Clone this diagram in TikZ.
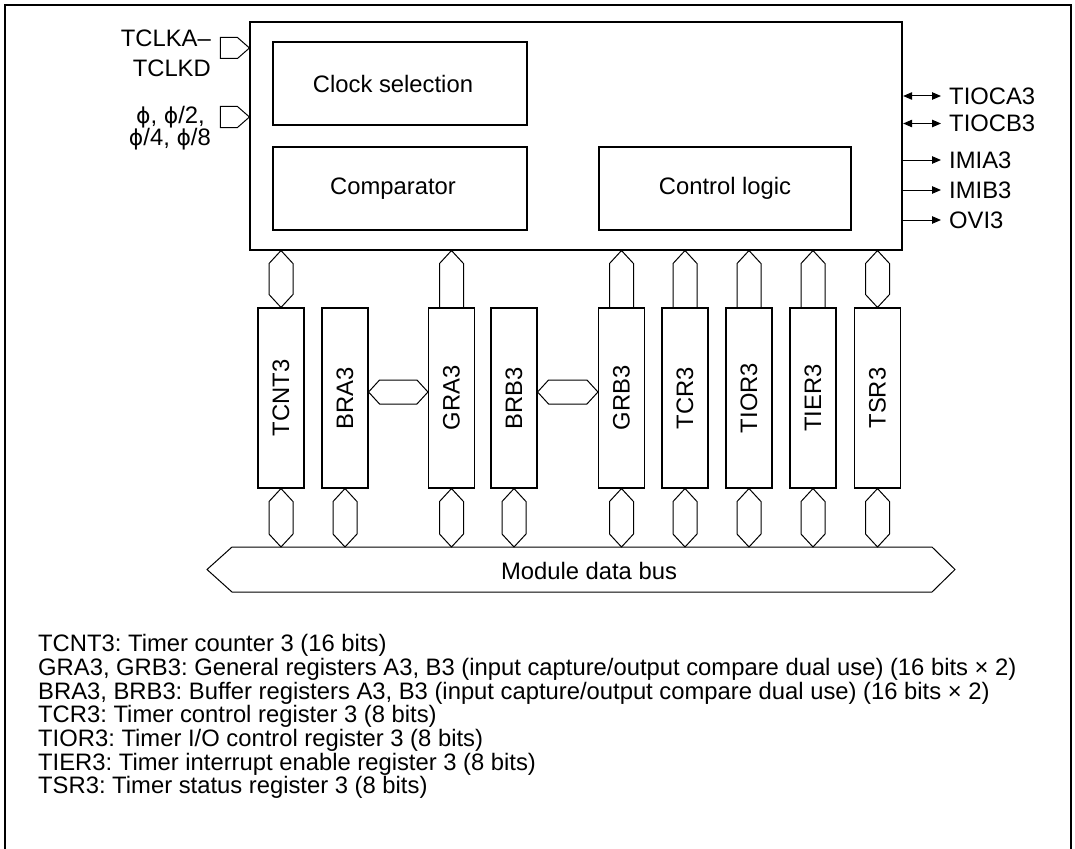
\documentclass[tikz,border=0pt]{standalone}
\usepackage{fontspec}
\setmainfont{Liberation Sans}
\newfontfamily\phifont[Scale=0.92]{DejaVu Sans}
\newcommand{\ph}{{\phifont ϕ}}
\usetikzlibrary{calc,arrows.meta}
\newcommand{\topdbl}[1]{%
  \coordinate (#1-a) at (#1.north |- main.south);
  \draw[conn] (#1-a) -- ++(12,13) -- ($(#1.north)+(12,-13)$) -- (#1.north) -- ++(-12,-13) -- ($(#1-a)+(-12,13)$) -- cycle;}
\newcommand{\topup}[1]{%
  \coordinate (#1-a) at (#1.north |- main.south);
  \draw[conn] ($(#1.north)+(-12,0)$) -- ($(#1-a)+(-12,13)$) -- (#1-a) -- ++(12,13) -- ($(#1.north)+(12,0)$);}
\newcommand{\botdbl}[1]{%
  \coordinate (#1-b) at (#1.south |- bustop);
  \draw[conn] (#1.south) -- ++(12,13) -- ($(#1-b)+(12,-13)$) -- (#1-b) -- ++(-12,-13) -- ($(#1.south)+(-12,13)$) -- cycle;}
\newcommand{\hdbl}[2]{%
  \coordinate (#1-h) at ($(#1.east)+(0,-6)$);
  \coordinate (#2-h) at ($(#2.west)+(0,-6)$);
  \draw[conn] (#1-h) -- ++(11,-12) -- ($(#2-h)+(-11,-12)$) -- (#2-h) -- ++(-11,12) -- ($(#1-h)+(11,12)$) -- cycle;}
\newcommand{\inpent}[1]{%
  \draw[conn] (#1) -- ++(-12,-10.5) -- ++(-17,0) -- ++(0,21) -- ++(17,0) -- cycle;}
\begin{document}
\frenchspacing
\begin{tikzpicture}[x=1pt,y=-1pt, line join=miter,
  font=\fontsize{23.8}{28}\selectfont,
  conn/.style={line width=1pt},
  blk/.style={draw, line width=1.1pt, inner sep=0pt},
  reg/.style={draw, line width=1.1pt, inner sep=0pt, minimum width=46pt, minimum height=180pt},
  txt/.style={inner sep=0pt},
  sig/.style={-{Triangle[length=9pt,width=7.5pt]}, line width=1pt},
  bisig/.style={{Triangle[length=9pt,width=7.5pt]}-{Triangle[length=9pt,width=7.5pt]}, line width=1pt}]
\useasboundingbox (0,0) rectangle (1075,848);
\clip (0,0) rectangle (1075,848);
% outer frame
\draw[line width=2.5pt] (5,870) -- (5,5) -- (1071,5) -- (1071,870);
% main block
\node[blk, minimum width=652pt, minimum height=228pt] (main) at (576,136) {};
\node[blk, minimum width=254pt, minimum height=83pt] (clk) at (400,83.5) {Clock selection\hspace*{14pt}};
\node[blk, minimum width=254pt, minimum height=83pt] (cmp) at (400,188.5) {Comparator\hspace*{14pt}};
\node[blk, minimum width=252pt, minimum height=83pt] (ctl) at (725,188.5) {Control logic};
% inputs
\coordinate (inA) at (main.west |- 0,48);
\coordinate (inB) at (main.west |- 0,117);
\inpent{inA}
\inpent{inB}
\node[txt, anchor=base east] (tclka) at (211,46.5) {TCLKA–};
\node[txt, anchor=base east] (tclkd) at (211,77) {TCLKD};
\node[txt, anchor=base east] (phia) at (205,123.5) {\ph, \ph/2,};
\node[txt, anchor=base east] (phib) at (211,145.5) {\ph/4, \ph/8};
% outputs
\node[txt, anchor=west] (tioca) at (949,96) {TIOCA3};
\node[txt, anchor=west] (tiocb) at (949,123.5) {TIOCB3};
\node[txt, anchor=west] (imia) at (949,160) {IMIA3};
\node[txt, anchor=west] (imib) at (949,190) {IMIB3};
\node[txt, anchor=west] (ovi) at (949,220) {OVI3};
\draw[bisig, shorten >=8pt, shorten <=0.6pt] (main.east |- tioca.west) -- (tioca.west);
\draw[bisig, shorten >=8pt, shorten <=0.6pt] (main.east |- tiocb.west) -- (tiocb.west);
\draw[sig, shorten >=8pt] (main.east |- imia.west) -- (imia.west);
\draw[sig, shorten >=8pt] (main.east |- imib.west) -- (imib.west);
\draw[sig, shorten >=8pt] (main.east |- ovi.west) -- (ovi.west);
% registers
\node[reg] (tcnt) at (281,398) {\rotatebox{90}{TCNT3}};
\node[reg] (bra)  at (345,398) {\rotatebox{90}{BRA3}};
\node[reg] (gra)  at (451.5,398) {\rotatebox{90}{GRA3}};
\node[reg] (brb)  at (514,398) {\rotatebox{90}{BRB3}};
\node[reg] (grb)  at (621.5,398) {\rotatebox{90}{GRB3}};
\node[reg] (tcr)  at (685,398) {\rotatebox{90}{TCR3}};
\node[reg] (tior) at (749,398) {\rotatebox{90}{TIOR3}};
\node[reg] (tier) at (813,398) {\rotatebox{90}{TIER3}};
\node[reg] (tsr)  at (877.5,398) {\rotatebox{90}{TSR3}};
% top connectors
\topdbl{tcnt}
\topup{gra}
\topup{grb}
\topup{tcr}
\topup{tior}
\topup{tier}
\topdbl{tsr}
% horizontal connectors
\hdbl{bra}{gra}
\hdbl{brb}{grb}
% bus
\coordinate (bustop) at (589,547);
\draw[conn] (207,569.5) -- (232,547) -- (932,547) -- (955,569.5) -- (932,592) -- (232,592) -- cycle;
\node[txt] (bus) at (589,571) {Module data bus};
\botdbl{tcnt}
\botdbl{bra}
\botdbl{gra}
\botdbl{brb}
\botdbl{grb}
\botdbl{tcr}
\botdbl{tior}
\botdbl{tier}
\botdbl{tsr}
% legend
\node[txt, anchor=base west] (l1) at (38,651.5) {TCNT3: Timer counter 3 (16 bits)};
\node[txt, anchor=base west] (l2) at (38,675.5) {GRA3, GRB3: General registers A3, B3 (input capture/output compare dual use) (16 bits × 2)};
\node[txt, anchor=base west] (l3) at (38,699.5) {BRA3, BRB3: Buffer registers A3, B3 (input capture/output compare dual use) (16 bits × 2)};
\node[txt, anchor=base west] (l4) at (38,722.5) {TCR3: Timer control register 3 (8 bits)};
\node[txt, anchor=base west] (l5) at (38,746.5) {TIOR3: Timer I/O control register 3 (8 bits)};
\node[txt, anchor=base west] (l6) at (38,770.5) {TIER3: Timer interrupt enable register 3 (8 bits)};
\node[txt, anchor=base west] (l7) at (38,793.5) {TSR3: Timer status register 3 (8 bits)};
\end{tikzpicture}
\end{document}
